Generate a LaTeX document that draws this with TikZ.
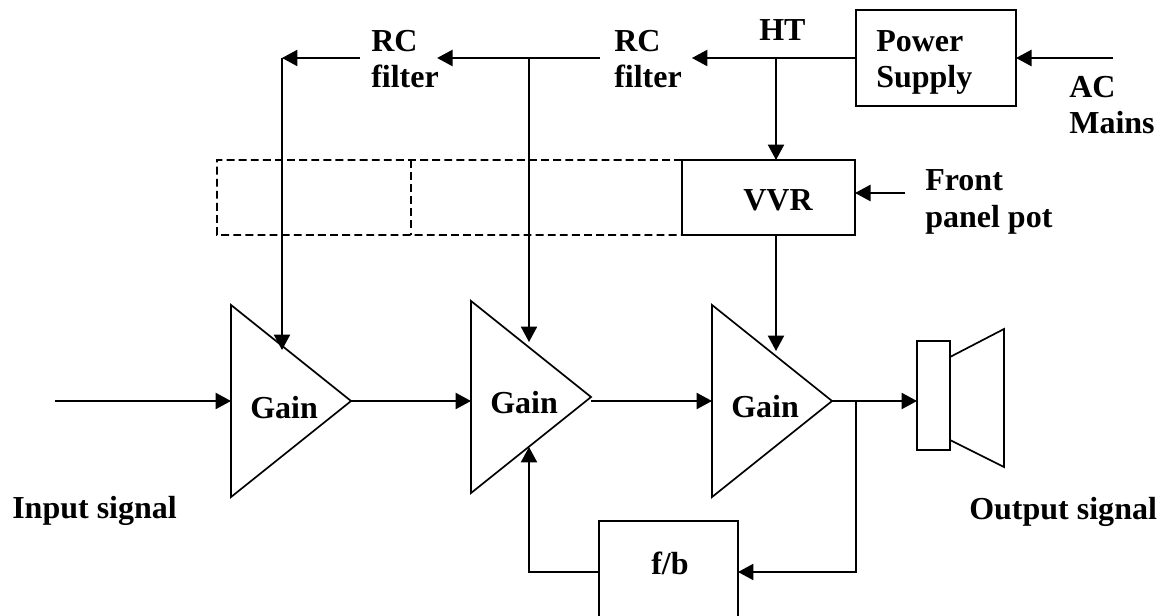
\documentclass[tikz,border=0pt]{standalone}
\usepackage{fontspec}
\setmainfont{Liberation Serif}
\usetikzlibrary{positioning,arrows.meta,shapes.geometric}

\tikzset{
  lbl/.style={font=\bfseries\fontsize{22.76}{26.2}\selectfont, inner sep=0pt, anchor=base west, align=left},
  blk/.style={draw, line width=1.3pt, inner sep=0pt, outer sep=0pt},
  amp/.style={draw, line width=1.2pt, isosceles triangle, isosceles triangle stretches, inner sep=0pt, outer sep=0pt,
    minimum height=3cm, minimum width=4.8cm, anchor=lower side},
  sig/.style={line width=1.3pt, -{Triangle[length=11pt,width=11.5pt]}},
  dsh/.style={line width=1.2pt, dash pattern=on 5.6pt off 3pt},
}

\begin{document}
\begin{tikzpicture}[x=0.025cm,y=-0.025cm]
\clip (0,0) rectangle (1161,616);
\fill[white] (0,0) rectangle (1161,616);

% blocks
\node[blk, minimum width=4cm, minimum height=2.4cm] (pwr) at (936,58) {};
\node[blk, minimum width=4.325cm, minimum height=1.875cm] (vvr) at (768.5,197.5) {};
\node[blk, minimum width=3.475cm, minimum height=2.55cm] (fb) at (668.5,572) {};
\node[blk, minimum width=0.825cm, minimum height=2.725cm] (spk) at (933.5,395.5) {};
\node[amp] (ampa) at (231,401) {};
\node[amp] (ampb) at (471,397) {};
\node[amp] (ampc) at (712,401) {};

% speaker cone
\draw[line width=1.2pt] (950,357) -- (1004,329) -- (1004,467) -- (950,440);

% dashed ganged sections
\draw[dsh] (vvr.north west) -- (217,160) -- (217,235) -- (vvr.south west);
\draw[dsh, line width=1.8pt] (411,160) -- (411,235);

% labels
\node[lbl] (rcone) at (371,88) {RC\\filter};
\node[lbl] (rctwo) at (614,88) {RC\\filter};
\node[lbl] (ht) at (759,41) {HT};
\node[lbl] (pwrlbl) at (876,88) {Power\\Supply};
\node[lbl] (ac) at (1069,134) {AC\\Mains};
\node[lbl] (vvrlbl) at (743,210) {VVR};
\node[lbl] (pot) at (925,227) {Front\\panel pot};
\node[lbl] (gaina) at (250,418) {Gain};
\node[lbl] (gainb) at (490,413) {Gain};
\node[lbl] (gainc) at (731,417) {Gain};
\node[lbl] (fblbl) at (651,574) {f/b};
\node[lbl] (insig) at (12,518) {Input signal};
\node[lbl] (outsig) at (969,519) {Output signal};

% free ends and branch points
\coordinate (acin) at (1113,58);
\coordinate (potin) at (905,193);
\coordinate (sigin) at (55,401);
\coordinate (jht) at (776,59);
\coordinate (jrc) at (529,58);
\coordinate (cornera) at (282,58);
\coordinate (jout) at (856,401);

% supply rail
\draw[sig] (acin) -- (pwr.east |- acin);
\draw[sig, shorten >=7pt] (pwr.west) -- (rctwo.east |- pwr.west);
\draw[sig] (jht) -- (jht |- vvr.north);
\draw[sig] (potin) -- (vvr.east |- potin);
\draw[sig, shorten <=10pt, shorten >=-1.4pt] (rctwo.west |- pwr.west) -- (rcone.east |- pwr.west);
\draw[sig, shorten <=8pt] (rcone.west |- pwr.west) -- (cornera);

% feeds to the stages
\draw[sig] (cornera) -- (282,350);
\draw[sig] (jrc) -- (529,342);
\draw[sig] (vvr.south -| jht) -- (776,351);

% signal path
\draw[sig] (sigin) -- (ampa.lower side);
\draw[sig] (ampa.apex) -- (ampb.lower side |- ampa.apex);
\draw[sig] (ampb.apex |- ampc.lower side) -- (ampc.lower side);
\draw[sig] (ampc.apex) -- (spk.west |- ampc.apex);

% feedback
\draw[sig] (jout) -- (jout |- fb.east) -- (fb.east);
\draw[sig] (fb.west) -- (529,572) -- (529,447);
\end{tikzpicture}
\end{document}
